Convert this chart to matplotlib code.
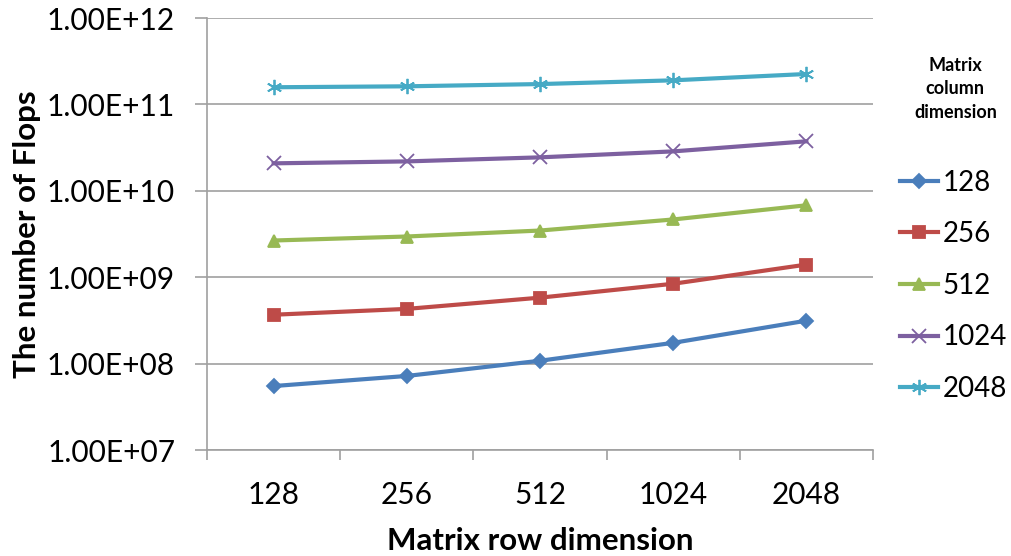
import math
import matplotlib
matplotlib.use("Agg")
import matplotlib.pyplot as plt
from matplotlib.ticker import FixedLocator, FuncFormatter, NullFormatter

plt.rcParams['font.family'] = ['Lato', 'DejaVu Sans']

row_dims = ["128", "256", "512", "1024", "2048"]
col_dims = ["128", "256", "512", "1024", "2048"]

flops_128 = [5.5e7, 7.2e7, 1.08e8, 1.74e8, 3.14e8]
flops_256 = [3.68e8, 4.3e8, 5.8e8, 8.4e8, 1.4e9]
flops_512 = [2.66e9, 2.96e9, 3.47e9, 4.66e9, 6.8e9]
flops_1024 = [2.08e10, 2.19e10, 2.44e10, 2.86e10, 3.74e10]
flops_2048 = [1.58e11, 1.62e11, 1.72e11, 1.9e11, 2.25e11]

series = [flops_128, flops_256, flops_512, flops_1024, flops_2048]
colors = ["#4A7EBB", "#BE4B48", "#98B954", "#7D60A0", "#46AAC5"]
markers = ["D", "s", "^", "x", (6, 2, 0)]
msizes = [7, 9, 9, 10, 11]

fig = plt.figure(figsize=(10.12, 5.56), dpi=100)
ax = fig.add_axes([0.2046, 0.1906, 0.658, 0.777])

x = range(len(row_dims))
handles = []
for vals, c, m, ms, lab in zip(series, colors, markers, msizes, col_dims):
    h, = ax.plot(x, vals, color=c, lw=3, marker=m, ms=ms, mew=1.3,
                 mfc=c, mec=c, label=lab)
    handles.append(h)

# log axis, Excel-style labels
ax.set_yscale("log")
ax.set_ylim(1e7, 1e12)
ax.yaxis.set_major_locator(FixedLocator([10.0 ** k for k in range(7, 13)]))
ax.yaxis.set_minor_locator(FixedLocator([]))
ax.yaxis.set_minor_formatter(NullFormatter())
ax.yaxis.set_major_formatter(FuncFormatter(lambda v, p: "1.00E+%02d" % round(math.log10(v))))
ax.grid(axis="y", color="#A0A0A0", lw=1.2)
ax.set_axisbelow(True)

# category axis: ticks between categories, labels at centers
ax.set_xlim(-0.5, len(row_dims) - 0.5)
ax.set_xticks([i - 0.5 for i in range(len(row_dims) + 1)])
ax.set_xticklabels([])
ax.set_xticks(list(x), minor=True)
ax.set_xticklabels(row_dims, minor=True)
ax.tick_params(axis="x", which="major", length=7.5, color="#A0A0A0", width=1.2)
ax.tick_params(axis="x", which="minor", length=0, pad=22, labelsize=21.5)
ax.tick_params(axis="y", which="major", length=9, color="#A0A0A0", width=1.2,
               labelsize=21.5, pad=14)

for s in ("top", "right"):
    ax.spines[s].set_visible(False)
for s in ("left", "bottom"):
    ax.spines[s].set_color("#A0A0A0")
    ax.spines[s].set_linewidth(1.2)

ax.set_xlabel("Matrix row dimension", fontsize=22.5, fontweight="bold", labelpad=13)
ax.set_ylabel("The number of Flops", fontsize=22.5, fontweight="bold", labelpad=4)

fig.text(0.944, 0.84, "Matrix\ncolumn\ndimension", ha="center", va="center",
         fontsize=13, fontweight="bold", linespacing=1.45)
fig.legend(handles=handles, loc="upper left", bbox_to_anchor=(0.889, 0.695),
           frameon=False, fontsize=20, handlelength=1.37, handletextpad=0.18,
           labelspacing=0.92, borderaxespad=0, borderpad=0)

fig.savefig("out.png", dpi=100)
